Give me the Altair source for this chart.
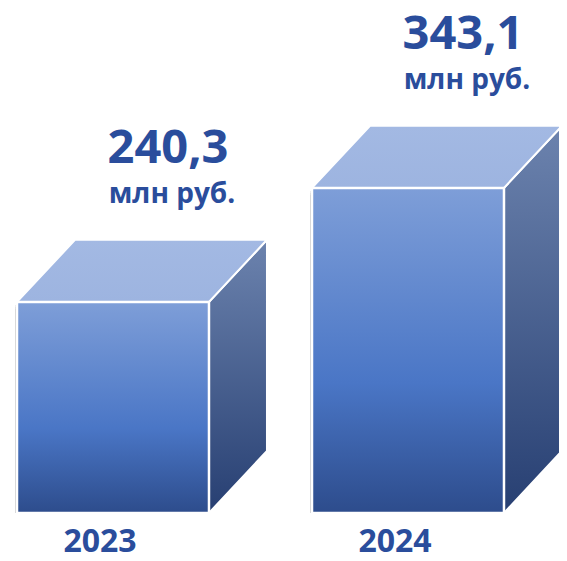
import altair as alt
import pandas as pd

# ---- data ----
YEARS = ["2023", "2024"]
VALUES = [240.3, 343.1]
VALUE_LABELS = ["240,3", "343,1"]
UNIT = "млн руб."

# ---- box geometry (style constants, in scale units) ----
BASE = 50          # level of the box floor on the value scale
HALF_W = 0.3254    # half width of the front face (category units)
DEPTH_X = 0.1966   # horizontal depth of the box (category units)
DEPTH_Y = 56       # vertical depth of the box (value units)

TEXT_COLOR = "#2A4D9C"
FONT = "Open Sans"

front = pd.DataFrame({
    "year": YEARS,
    "value": VALUES,
    "label": VALUE_LABELS,
    "idx": list(range(len(YEARS))),
})
front["x0"] = front["idx"] - HALF_W
front["x1"] = front["idx"] + HALF_W
front["base"] = BASE
front["unit"] = UNIT

side_rows, top_rows = [], []
for _, r in front.iterrows():
    side_rows.append({"year": r.year, "x": r.x1, "y": r.value, "y2": BASE})
    side_rows.append({"year": r.year, "x": r.x1 + DEPTH_X, "y": r.value + DEPTH_Y, "y2": BASE + DEPTH_Y})
    top_rows.append({"year": r.year, "y": r.value, "x": r.x0, "x2": r.x1})
    top_rows.append({"year": r.year, "y": r.value + DEPTH_Y, "x": r.x0 + DEPTH_X, "x2": r.x1 + DEPTH_X})
side = pd.DataFrame(side_rows)
top = pd.DataFrame(top_rows)

xs = alt.Scale(domain=[-0.3559, 1.5119], nice=False, zero=False)
ys = alt.Scale(domain=[13.9, 505.3], nice=False, zero=False)

def grad(stops):
    return alt.Gradient(
        gradient="linear",
        stops=[alt.GradientStop(color=c, offset=o) for o, c in stops],
        x1=0, x2=0, y1=0, y2=1,
    )

front_fill = grad([(0, "#7E9ED8"), (0.6, "#4A76C6"), (1, "#2D4C8C")])
side_fill = grad([(0, "#6C83AE"), (1, "#273F72")])
top_fill = grad([(0, "#A3B9E3"), (1, "#9DB4E0")])

base_front = alt.Chart(front)

shadows = []
for off, op in [(7, 0.10), (5, 0.14), (3, 0.18)]:
    shadows.append(
        base_front.mark_rect(color="#7a7a7a", opacity=op, xOffset=-2, yOffset=off).encode(
            x=alt.X("x0:Q", scale=xs, axis=None),
            x2="x1:Q",
            y=alt.Y("value:Q", scale=ys, axis=None),
            y2="base:Q",
        )
    )
    shadows.append(
        alt.Chart(side).mark_area(color="#7a7a7a", opacity=op, xOffset=-2, yOffset=off).encode(
            x=alt.X("x:Q", scale=xs, axis=None),
            y=alt.Y("y:Q", scale=ys, axis=None),
            y2="y2:Q",
            detail="year:N",
        )
    )

side_layer = alt.Chart(side).mark_area(fill=side_fill, stroke="white", strokeWidth=2).encode(
    x=alt.X("x:Q", scale=xs, axis=None),
    y=alt.Y("y:Q", scale=ys, axis=None),
    y2="y2:Q",
    detail="year:N",
)

top_layer = alt.Chart(top).mark_area(
    orient="horizontal", fill=top_fill, stroke="white", strokeWidth=2
).encode(
    y=alt.Y("y:Q", scale=ys, axis=None),
    x=alt.X("x:Q", scale=xs, axis=None),
    x2="x2:Q",
    detail="year:N",
)

front_layer = base_front.mark_rect(fill=front_fill, stroke="white", strokeWidth=2.5).encode(
    x=alt.X("x0:Q", scale=xs, axis=None),
    x2="x1:Q",
    y=alt.Y("value:Q", scale=ys, axis=None),
    y2="base:Q",
)

num_text = base_front.mark_text(
    font=FONT, fontWeight="bold", fontSize=47, color=TEXT_COLOR,
    align="center", baseline="alphabetic", dx=55, dy=-139,
).encode(
    x=alt.X("idx:Q", scale=xs, axis=None),
    y=alt.Y("value:Q", scale=ys, axis=None),
    text="label:N",
)

unit_text = base_front.mark_text(
    font=FONT, fontWeight="bold", fontSize=28, color=TEXT_COLOR,
    align="center", baseline="alphabetic", dx=59, dy=-99,
).encode(
    x=alt.X("idx:Q", scale=xs, axis=None),
    y=alt.Y("value:Q", scale=ys, axis=None),
    text="unit:N",
)

year_text = base_front.mark_text(
    font=FONT, fontWeight="bold", fontSize=32, color=TEXT_COLOR,
    align="center", baseline="alphabetic", dx=-13, dy=39,
).encode(
    x=alt.X("idx:Q", scale=xs, axis=None),
    y=alt.Y("base:Q", scale=ys, axis=None),
    text="year:N",
)

chart = alt.layer(
    *shadows, side_layer, top_layer, front_layer, num_text, unit_text, year_text
).properties(
    width=551, height=545,
    autosize=alt.AutoSizeParams(type="none"),
    padding=0,
    background="white",
).configure_view(stroke=None)

chart.save("out.html", embed_options={"renderer": "svg", "actions": False})
